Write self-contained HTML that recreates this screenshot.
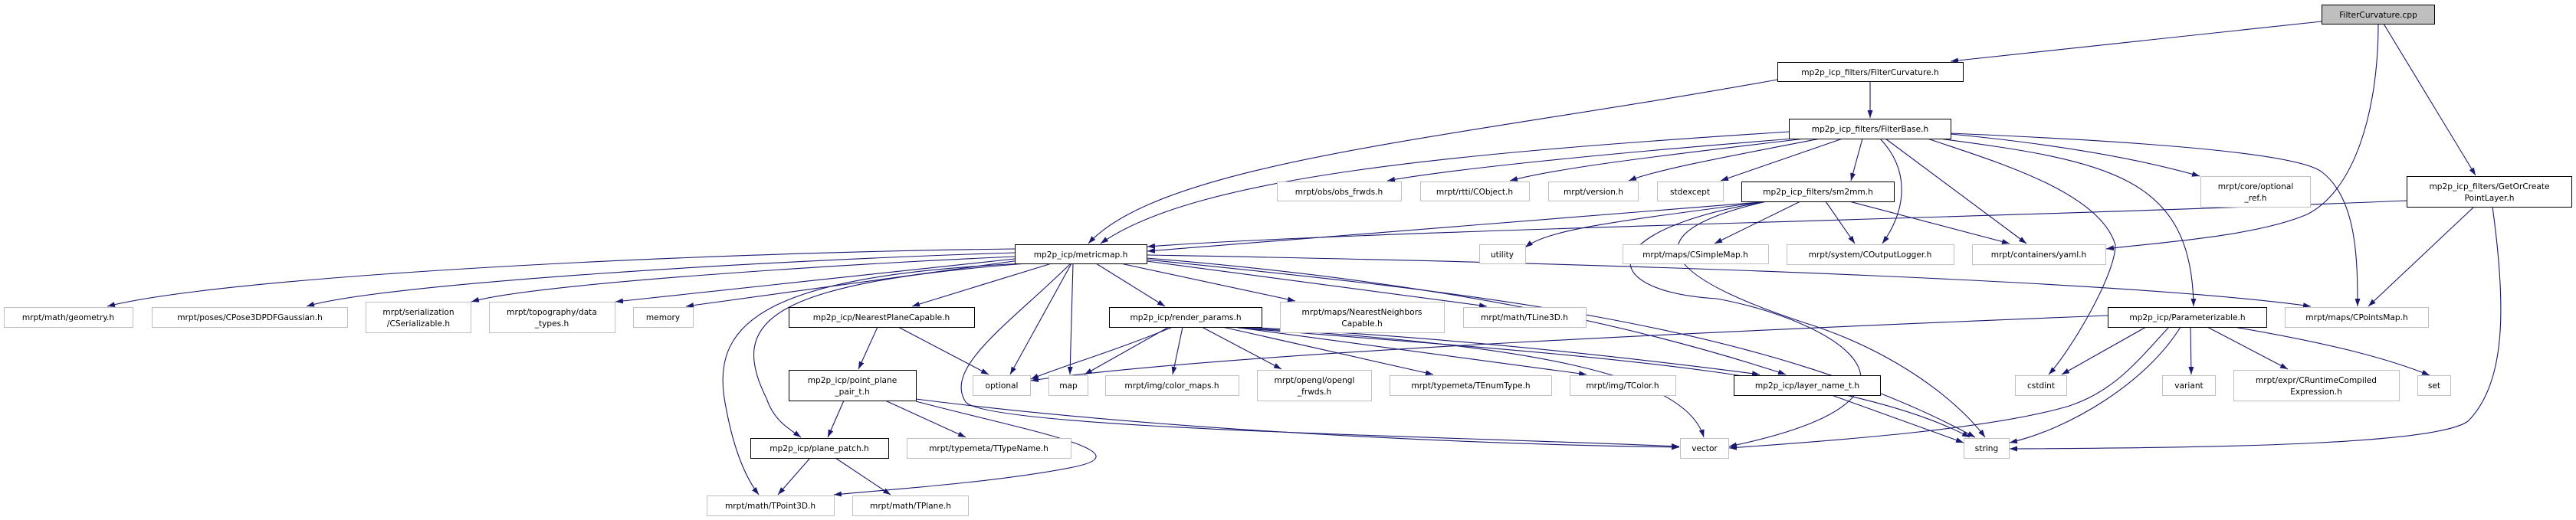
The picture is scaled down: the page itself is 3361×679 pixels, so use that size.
<!DOCTYPE html>
<html><head><meta charset="utf-8"><style>
html,body{margin:0;padding:0;background:#fff;}
svg{display:block;}
text{font-family:"DejaVu Sans","Liberation Sans",sans-serif;font-size:10.6px;fill:#000;}
.e{fill:none;stroke:#191970;stroke-width:1.1;}
.b{fill:#fff;stroke:#000;stroke-width:1;}
.g{fill:#fff;stroke:#bfbfbf;stroke-width:1;}
</style></head><body>
<svg width="3361" height="679" viewBox="0 0 3361 679" xmlns="http://www.w3.org/2000/svg">
<defs><marker id="a" markerUnits="userSpaceOnUse" markerWidth="11" markerHeight="8" refX="10" refY="3.5" orient="auto"><path d="M0,0 L10,3.5 L0,7 z" fill="#191970"/></marker></defs>
<g class="e" marker-end="url(#a)">
<path d="M3029,28 L2545,80"/>
<path d="M3110,31 L3230,229"/>
<path d="M3103,31 C3103,150 3070,250 3010,280 C2940,310 2800,318 2748,325"/>
<path d="M2440,106 L2440,154"/>
<path d="M2319,104 C1900,180 1520,210 1420,318"/>
<path d="M2334,172 C1900,200 1560,230 1436,318"/>
<path d="M2340,181 C2100,200 1900,220 1810,236"/>
<path d="M2355,181 C2150,205 2030,220 1970,236"/>
<path d="M2375,181 C2250,205 2160,222 2125,236"/>
<path d="M2404,181 L2245,236"/>
<path d="M2430,181 L2415,236"/>
<path d="M2453,181 C2490,220 2490,270 2456,318"/>
<path d="M2460,181 L2644,318"/>
<path d="M2515,181 C2600,210 2740,250 2760,320 C2760,360 2700,460 2673,489"/>
<path d="M2530,181 C2750,210 2860,230 2862,400"/>
<path d="M2545,175 C2700,190 2800,210 2870,230"/>
<path d="M2545,174 C2800,185 3000,200 3030,225 C3075,260 3076,340 3076,400"/>
<path d="M2349,263 L2237,318"/>
<path d="M2382,263 L2420,318"/>
<path d="M2413,263 L2622,318"/>
<path d="M2310,263 L1497,328"/>
<path d="M2305,263 C2100,290 2020,300 1990,323"/>
<path d="M2305,263 C2080,300 2080,380 2240,390 C2400,420 2560,520 2256,583"/>
<path d="M2305,263 C2100,310 2200,370 2350,420 C2480,460 2560,530 2590,571"/>
<path d="M1324,325 C900,330 300,360 140,400"/>
<path d="M1324,330 C1000,340 500,370 400,400"/>
<path d="M1324,335 C1100,345 700,370 615,394"/>
<path d="M1324,338 L803,394"/>
<path d="M1330,340 L895,400"/>
<path d="M1372,344 L1190,400"/>
<path d="M1340,344 C1000,370 950,420 1000,520 C1010,550 1030,560 1045,571"/>
<path d="M1335,344 C1000,360 930,420 945,520 C955,580 970,620 990,646"/>
<path d="M1398,344 L1318,489"/>
<path d="M1400,344 L1396,489"/>
<path d="M1397,344 C1320,420 1230,480 1260,525 C1290,560 1900,570 2191,583"/>
<path d="M1430,344 L1520,400"/>
<path d="M1462,344 L1690,393"/>
<path d="M1496,341 L1940,400"/>
<path d="M1496,333 C2200,345 2800,370 3015,400"/>
<path d="M1496,337 C1900,370 2150,430 2330,489"/>
<path d="M1496,339 C1900,380 2300,420 2577,571"/>
<path d="M3140,262 C2600,285 1800,300 1497,322"/>
<path d="M1145,427 L1120,482"/>
<path d="M1172,427 L1290,489"/>
<path d="M1101,523 L1080,571"/>
<path d="M1155,523 L1260,571"/>
<path d="M1195,521 C1500,560 1900,580 2191,584"/>
<path d="M1195,524 C1330,560 1500,590 1400,610 C1300,630 1150,640 1088,646"/>
<path d="M1057,598 L1015,646"/>
<path d="M1090,598 L1162,646"/>
<path d="M1530,427 C1450,460 1380,480 1345,495"/>
<path d="M1525,427 L1415,489"/>
<path d="M1543,427 L1530,489"/>
<path d="M1568,427 L1672,482"/>
<path d="M1595,427 L1870,489"/>
<path d="M1610,427 L2070,489"/>
<path d="M1620,427 C1900,440 2150,470 2296,489"/>
<path d="M1620,428 C2000,450 2200,490 2223,571"/>
<path d="M1615,428 C2000,460 2400,480 2570,571"/>
<path d="M2390,516 L2562,578"/>
<path d="M2750,412 C2300,430 1600,460 1345,497"/>
<path d="M2800,427 L2690,489"/>
<path d="M2830,427 C2790,470 2760,510 2700,530 C2600,560 2400,575 2256,585"/>
<path d="M2845,427 C2800,500 2700,560 2622,578"/>
<path d="M2858,427 L2859,489"/>
<path d="M2880,427 L2985,482"/>
<path d="M2915,427 C3050,450 3120,470 3170,490"/>
<path d="M3228,270 L3090,400"/>
<path d="M3252,270 C3270,400 3270,500 3220,550 C3180,580 2900,585 2622,586"/>
</g>
<g>
<rect x="3029.5" y="6.5" width="147" height="25" fill="#bfbfbf" stroke="#000"/><text x="3103" y="23" text-anchor="middle">FilterCurvature.cpp</text>
<rect class="b" x="2319.5" y="81.5" width="242" height="25"/><text x="2440" y="98" text-anchor="middle">mp2p_icp_filters/FilterCurvature.h</text>
<rect class="b" x="2334.5" y="155.5" width="211" height="26"/><text x="2440" y="172" text-anchor="middle">mp2p_icp_filters/FilterBase.h</text>
<rect class="g" x="1666.5" y="237.5" width="162" height="25"/><text x="1747" y="254" text-anchor="middle">mrpt/obs/obs_frwds.h</text>
<rect class="g" x="1853.5" y="237.5" width="142" height="25"/><text x="1924" y="254" text-anchor="middle">mrpt/rtti/CObject.h</text>
<rect class="g" x="2020.5" y="237.5" width="117" height="25"/><text x="2079" y="254" text-anchor="middle">mrpt/version.h</text>
<rect class="g" x="2162.5" y="237.5" width="86" height="25"/><text x="2205" y="254" text-anchor="middle">stdexcept</text>
<rect class="b" x="2272.5" y="237.5" width="199" height="26"/><text x="2372" y="254" text-anchor="middle">mp2p_icp_filters/sm2mm.h</text>
<rect class="b" x="1324.5" y="319.5" width="172" height="25"/><text x="1410" y="336" text-anchor="middle">mp2p_icp/metricmap.h</text>
<rect class="g" x="1930.5" y="319.5" width="60" height="25"/><text x="1960" y="336" text-anchor="middle">utility</text>
<rect class="g" x="2117.5" y="319.5" width="190" height="25"/><text x="2212" y="336" text-anchor="middle">mrpt/maps/CSimpleMap.h</text>
<rect class="g" x="2331.5" y="319.5" width="218" height="26"/><text x="2440" y="336" text-anchor="middle">mrpt/system/COutputLogger.h</text>
<rect class="g" x="2573.5" y="319.5" width="174" height="26"/><text x="2660" y="336" text-anchor="middle">mrpt/containers/yaml.h</text>
<rect class="g" x="2871.5" y="230.5" width="143" height="40"/><text x="2943" y="247" text-anchor="middle">mrpt/core/optional</text><text x="2943" y="262" text-anchor="middle">_ref.h</text>
<rect class="b" x="3140.5" y="230.5" width="215" height="40"/><text x="3248" y="247" text-anchor="middle">mp2p_icp_filters/GetOrCreate</text><text x="3248" y="262" text-anchor="middle">PointLayer.h</text>
<rect class="g" x="5.5" y="401.5" width="168" height="26"/><text x="89" y="418" text-anchor="middle">mrpt/math/geometry.h</text>
<rect class="g" x="198.5" y="401.5" width="255" height="26"/><text x="326" y="418" text-anchor="middle">mrpt/poses/CPose3DPDFGaussian.h</text>
<rect class="g" x="477.5" y="394.5" width="137" height="40"/><text x="546" y="411" text-anchor="middle">mrpt/serialization</text><text x="546" y="426" text-anchor="middle">/CSerializable.h</text>
<rect class="g" x="638.5" y="394.5" width="164" height="40"/><text x="720" y="411" text-anchor="middle">mrpt/topography/data</text><text x="720" y="426" text-anchor="middle">_types.h</text>
<rect class="g" x="826.5" y="401.5" width="78" height="26"/><text x="865" y="418" text-anchor="middle">memory</text>
<rect class="b" x="1029.5" y="401.5" width="242" height="26"/><text x="1150" y="418" text-anchor="middle">mp2p_icp/NearestPlaneCapable.h</text>
<rect class="b" x="1447.5" y="401.5" width="199" height="26"/><text x="1547" y="418" text-anchor="middle">mp2p_icp/render_params.h</text>
<rect class="g" x="1670.5" y="394.5" width="214" height="40"/><text x="1777" y="411" text-anchor="middle">mrpt/maps/NearestNeighbors</text><text x="1777" y="426" text-anchor="middle">Capable.h</text>
<rect class="g" x="1909.5" y="401.5" width="160" height="26"/><text x="1989" y="418" text-anchor="middle">mrpt/math/TLine3D.h</text>
<rect class="b" x="2750.5" y="401.5" width="207" height="26"/><text x="2854" y="418" text-anchor="middle">mp2p_icp/Parameterizable.h</text>
<rect class="g" x="2981.5" y="401.5" width="187" height="26"/><text x="3075" y="418" text-anchor="middle">mrpt/maps/CPointsMap.h</text>
<rect class="b" x="1029.5" y="483.5" width="166" height="40"/><text x="1112" y="500" text-anchor="middle">mp2p_icp/point_plane</text><text x="1112" y="515" text-anchor="middle">_pair_t.h</text>
<rect class="g" x="1269.5" y="490.5" width="75" height="26"/><text x="1307" y="507" text-anchor="middle">optional</text>
<rect class="g" x="1368.5" y="490.5" width="51" height="26"/><text x="1394" y="507" text-anchor="middle">map</text>
<rect class="g" x="1442.5" y="490.5" width="174" height="26"/><text x="1529" y="507" text-anchor="middle">mrpt/img/color_maps.h</text>
<rect class="g" x="1640.5" y="483.5" width="149" height="40"/><text x="1715" y="500" text-anchor="middle">mrpt/opengl/opengl</text><text x="1715" y="515" text-anchor="middle">_frwds.h</text>
<rect class="g" x="1813.5" y="490.5" width="211" height="26"/><text x="1919" y="507" text-anchor="middle">mrpt/typemeta/TEnumType.h</text>
<rect class="g" x="2048.5" y="490.5" width="138" height="26"/><text x="2117" y="507" text-anchor="middle">mrpt/img/TColor.h</text>
<rect class="b" x="2262.5" y="490.5" width="191" height="26"/><text x="2358" y="507" text-anchor="middle">mp2p_icp/layer_name_t.h</text>
<rect class="g" x="2629.5" y="490.5" width="67" height="26"/><text x="2663" y="507" text-anchor="middle">cstdint</text>
<rect class="g" x="2821.5" y="490.5" width="69" height="26"/><text x="2856" y="507" text-anchor="middle">variant</text>
<rect class="g" x="2914.5" y="483.5" width="216" height="40"/><text x="3022" y="500" text-anchor="middle">mrpt/expr/CRuntimeCompiled</text><text x="3022" y="515" text-anchor="middle">Expression.h</text>
<rect class="g" x="3154.5" y="490.5" width="43" height="26"/><text x="3176" y="507" text-anchor="middle">set</text>
<rect class="b" x="979.5" y="572.5" width="180" height="26"/><text x="1069" y="589" text-anchor="middle">mp2p_icp/plane_patch.h</text>
<rect class="g" x="1183.5" y="572.5" width="214" height="26"/><text x="1290" y="589" text-anchor="middle">mrpt/typemeta/TTypeName.h</text>
<rect class="g" x="2192.5" y="572.5" width="63" height="26"/><text x="2224" y="589" text-anchor="middle">vector</text>
<rect class="g" x="2562.5" y="572.5" width="59" height="26"/><text x="2592" y="589" text-anchor="middle">string</text>
<rect class="g" x="922.5" y="647.5" width="166" height="26"/><text x="1005" y="664" text-anchor="middle">mrpt/math/TPoint3D.h</text>
<rect class="g" x="1112.5" y="647.5" width="151" height="26"/><text x="1188" y="664" text-anchor="middle">mrpt/math/TPlane.h</text>
</g>
</svg>
</body></html>
